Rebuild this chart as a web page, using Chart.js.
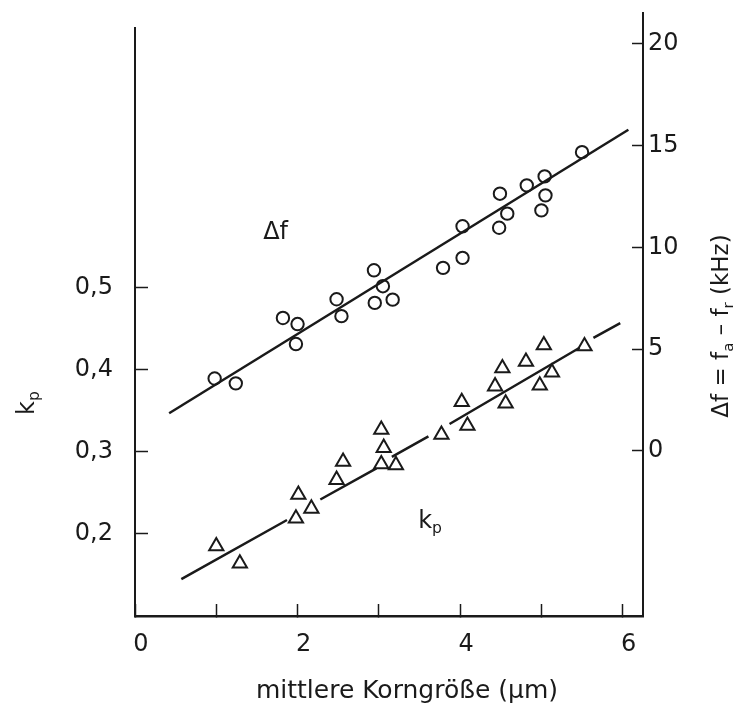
<!DOCTYPE html>
<html>
<head>
<meta charset="utf-8">
<title>kp und Δf über mittlere Korngröße</title>
<script src="https://cdn.jsdelivr.net/npm/chart.js@4.4.0/dist/chart.umd.min.js"></script>
<style>
  html, body { margin: 0; padding: 0; background: #fff; }
  #wrap { width: 737px; height: 712px; }
</style>
</head>
<body>
<div id="wrap"><canvas id="chart" width="737" height="712"></canvas></div>
<script>
// Δf-Messpunkte (Kreise), rechte Achse in kHz
const dfX = [0.98, 1.24, 1.82, 2.00, 1.98, 2.48, 2.54, 2.94, 3.05, 2.95, 3.17, 3.79, 4.03, 4.03, 4.49, 4.58, 4.48, 4.82, 5.04, 5.05, 5.00, 5.50];
const dfY = [3.56, 3.32, 6.53, 6.23, 5.25, 7.45, 6.62, 8.87, 8.09, 7.27, 7.43, 8.99, 9.48, 11.03, 12.63, 11.65, 10.96, 13.04, 13.48, 12.55, 11.81, 14.67];

// kp-Messpunkte (Dreiecke), linke Achse
const kpX = [1.00, 1.29, 2.01, 1.98, 2.17, 2.48, 2.56, 3.03, 3.06, 3.03, 3.21, 3.77, 4.02, 4.09, 4.43, 4.52, 4.56, 4.81, 5.03, 4.98, 5.13, 5.53];
const kpY = [0.185, 0.164, 0.248, 0.219, 0.231, 0.266, 0.288, 0.327, 0.305, 0.285, 0.284, 0.321, 0.361, 0.332, 0.380, 0.402, 0.359, 0.410, 0.430, 0.381, 0.397, 0.429];

// Ausgleichsgeraden (kp-Gerade ist im Original unterbrochen)
const dfFitX = [0.42, 6.07];
const dfFitY = [1.85, 15.77];
const kpFitX = [0.57, 1.87, null, 2.28, 2.97, null, 3.16, 3.61, null, 3.87, 5.47, null, 5.64, 5.97];
const kpFitY = [0.145, 0.217, null, 0.242, 0.280, null, 0.294, 0.319, null, 0.334, 0.427, null, 0.439, 0.457];

// Achsenteilung
const xTicks = [0, 1, 2, 3, 4, 5, 6];
const kpTicks = [0.2, 0.3, 0.4, 0.5];
const dfTicks = [0, 5, 10, 15, 20];
const kpAxisTop = 0.818; // linke Achse endet etwas tiefer als die rechte

// Beschriftungen im Diagramm: [x, y, Achse]
const dfNote = [1.73, 10.7, 'yR'];
const kpNote = [3.63, 0.215, 'yL'];

const toPoints = (xs, ys) => xs.map((x, i) => ({ x: x, y: ys[i] }));

const FONT = "'DejaVu Sans', Verdana, sans-serif";
const INK = '#1a1a1a';
const axisFont = { family: FONT, size: 24 };

// Text mit tiefgestellten Teilen zeichnen, z.B. k_p
function drawRich(ctx, parts, x, y, size, angle) {
    ctx.save();
    ctx.translate(x, y);
    ctx.rotate(angle || 0);
    ctx.fillStyle = INK;
    ctx.textBaseline = 'middle';
    ctx.textAlign = 'left';
    let total = 0;
    const widths = parts.map(p => {
        ctx.font = (p[1] ? size * 0.65 : size) + 'px ' + FONT;
        const w = ctx.measureText(p[0]).width;
        total += w;
        return w;
    });
    let cx = -total / 2;
    parts.forEach((p, i) => {
        ctx.font = (p[1] ? size * 0.65 : size) + 'px ' + FONT;
        ctx.fillText(p[0], cx, p[1] ? size * 0.3 : 0);
        cx += widths[i];
    });
    ctx.restore();
}

const labelsPlugin = {
    id: 'labels',
    afterDraw(chart) {
        const ctx = chart.ctx;
        const sx = chart.scales.x;
        const yL = chart.scales.yL;

        // linke Achsenlinie
        ctx.save();
        ctx.strokeStyle = INK;
        ctx.lineWidth = 2;
        ctx.beginPath();
        ctx.moveTo(chart.chartArea.left, yL.getPixelForValue(kpAxisTop));
        ctx.lineTo(chart.chartArea.left, chart.chartArea.bottom);
        ctx.stroke();
        ctx.restore();

        drawRich(ctx, [['k', 0], ['p', 1]], 28, 403, 24, -Math.PI / 2);
        drawRich(ctx, [['Δf = f', 0], ['a', 1], [' – f', 0], ['r', 1], [' (kHz)', 0]], 722, 326, 23, -Math.PI / 2);
        drawRich(ctx, [['mittlere Korngröße (µm)', 0]], 407, 691, 25, 0);
        drawRich(ctx, [['Δf', 0]], sx.getPixelForValue(dfNote[0]), chart.scales[dfNote[2]].getPixelForValue(dfNote[1]), 24, 0);
        drawRich(ctx, [['k', 0], ['p', 1]], sx.getPixelForValue(kpNote[0]), chart.scales[kpNote[2]].getPixelForValue(kpNote[1]), 24, 0);
    }
};

new Chart(document.getElementById('chart'), {
    type: 'scatter',
    data: {
        datasets: [
            { label: 'Δf', data: toPoints(dfX, dfY), yAxisID: 'yR', pointStyle: 'circle', pointRadius: 6.2,
              borderColor: INK, borderWidth: 2, backgroundColor: 'rgba(0,0,0,0)', showLine: false },
            { label: 'Δf Gerade', data: toPoints(dfFitX, dfFitY), yAxisID: 'yR', showLine: true, pointRadius: 0,
              borderColor: INK, borderWidth: 2.5 },
            { label: 'kp', data: toPoints(kpX, kpY), yAxisID: 'yL', pointStyle: 'triangle', pointRadius: 8.2,
              borderColor: INK, borderWidth: 2, backgroundColor: 'rgba(0,0,0,0)', showLine: false },
            { label: 'kp Gerade', data: toPoints(kpFitX, kpFitY), yAxisID: 'yL', showLine: true, spanGaps: false,
              pointRadius: 0, borderColor: INK, borderWidth: 2.5 }
        ]
    },
    options: {
        responsive: false,
        devicePixelRatio: 1,
        animation: false,
        layout: { padding: { top: 13, left: 0, right: 0, bottom: 0 } },
        plugins: { legend: { display: false }, tooltip: { enabled: false } },
        scales: {
            x: {
                type: 'linear', min: 0, max: 6.25,
                afterBuildTicks: s => { s.ticks = xTicks.map(v => ({ value: v })); },
                afterFit: s => { s.height = 96; s.paddingLeft = 0; s.paddingRight = 0; },
                ticks: { callback: v => (v % 2 === 0 ? String(v) : ''), font: axisFont, color: INK,
                         padding: 26, labelOffset: 6, autoSkip: false, maxRotation: 0 },
                grid: { drawOnChartArea: false, tickLength: -12, tickWidth: 1.5, tickColor: INK },
                border: { color: INK, width: 2.5 }
            },
            yL: {
                type: 'linear', position: 'left', min: 0.1, max: 0.835,
                afterBuildTicks: s => { s.ticks = kpTicks.map(v => ({ value: v })); },
                afterFit: s => { s.width = 135; s.paddingTop = 0; s.paddingBottom = 0; },
                ticks: { callback: v => v.toFixed(1).replace('.', ','), font: axisFont, color: INK, padding: 35 },
                grid: { drawOnChartArea: false, tickLength: -13, tickWidth: 1.5, tickColor: INK },
                border: { display: false }
            },
            yR: {
                type: 'linear', position: 'right', min: -8.1, max: 21.5,
                afterBuildTicks: s => { s.ticks = dfTicks.map(v => ({ value: v })); },
                afterFit: s => { s.width = 94; s.paddingTop = 0; s.paddingBottom = 0; },
                ticks: { callback: v => String(v), font: axisFont, color: INK, padding: 16 },
                grid: { drawOnChartArea: false, tickLength: -11, tickWidth: 1.5, tickColor: INK },
                border: { color: INK, width: 2 }
            }
        }
    },
    plugins: [labelsPlugin]
});
</script>
</body>
</html>
